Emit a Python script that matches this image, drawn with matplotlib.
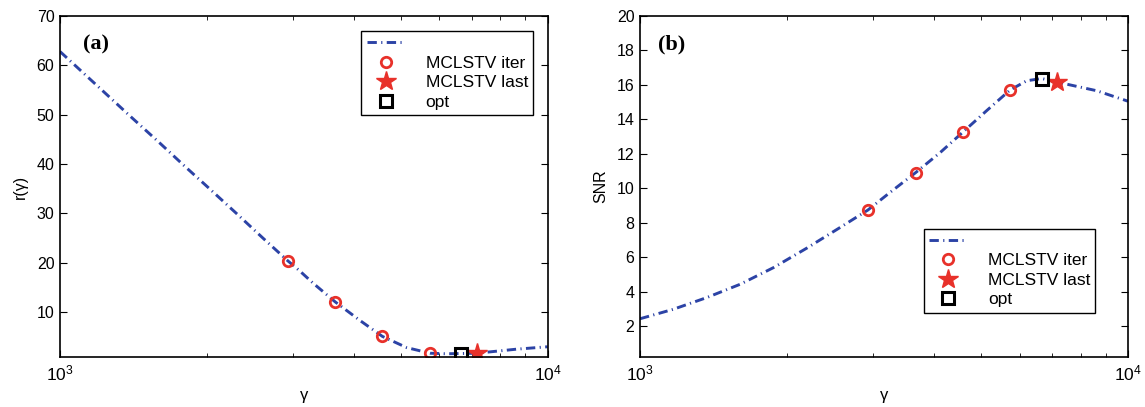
import matplotlib
matplotlib.use('Agg')
import matplotlib.pyplot as plt
from matplotlib.ticker import LogLocator, NullFormatter

plt.rcParams['font.family'] = ['Liberation Sans', 'DejaVu Sans']
plt.rcParams['mathtext.fontset'] = 'custom'
plt.rcParams['mathtext.rm'] = 'Liberation Sans'

# panel (a): residual curve r(gamma)
gamma_a = [1000, 1200, 1400, 1600, 1800, 2000, 2300, 2600, 2931, 3105, 3300,
           3669, 4122, 4581, 5140, 5739, 6200, 6637, 7147, 8630, 10000]
r_a = [62.8, 55.6, 49.5, 44.3, 39.6, 35.5, 30.0, 25.1, 20.4, 18.3, 15.9,
       12.05, 8.3, 5.08, 2.8, 1.66, 1.55, 1.6, 1.66, 2.48, 2.97]
iter_a_x = [2931, 3669, 4581, 5739]
iter_a_y = [20.4, 12.05, 5.08, 1.66]
last_a = (7147, 1.66)
opt_a = (6637, 1.6)

# panel (b): SNR curve
gamma_b = [1000, 1170, 1370, 1603, 1877, 2196, 2570, 2929, 3251, 3672, 4121,
           4592, 5130, 5730, 6200, 6653, 7162, 8625, 10000]
snr_b = [2.42, 2.97, 3.65, 4.42, 5.39, 6.52, 7.72, 8.73, 9.75, 10.91, 12.07,
         13.27, 14.5, 15.70, 16.24, 16.37, 16.16, 15.66, 15.05]
iter_b_x = [2929, 3672, 4592, 5730]
iter_b_y = [8.73, 10.91, 13.27, 15.70]
last_b = (7162, 16.16)
opt_b = (6653, 16.37)

line_col = '#2c43a6'
red = '#e8312a'

fig = plt.figure(figsize=(11.45, 4.07), dpi=100)
ax1 = fig.add_axes([0.0524, 0.1229, 0.4259, 0.8378])
ax2 = fig.add_axes([0.5590, 0.1229, 0.4262, 0.8378])


def draw(ax, gx, gy, ix, iy, last, opt):
    ax.plot(gx, gy, linestyle='-.', color=line_col, lw=2.1, label=' ',
            dashes=(3.2, 1.5, 0.4, 1.5))
    ax.plot(ix, iy, 'o', ms=7.5, mfc='none', mec=red, mew=2, label='MCLSTV iter',
            linestyle='none')
    ax.plot([last[0]], [last[1]], '*', ms=15, mfc=red, mec=red, mew=1,
            label='MCLSTV last', linestyle='none')
    ax.plot([opt[0]], [opt[1]], 's', ms=8.5, mfc='none', mec='black', mew=2.2,
            label='opt', linestyle='none')
    ax.set_xscale('log')
    ax.set_xlim(1000, 10000)
    ax.xaxis.set_minor_locator(LogLocator(base=10, subs=range(2, 10)))
    ax.xaxis.set_minor_formatter(NullFormatter())
    ax.tick_params(which='both', direction='in', top=True, right=True,
                   labelsize=11.5)
    ax.tick_params(which='major', length=5)
    ax.tick_params(which='minor', length=3)
    ax.tick_params(axis='x', pad=5, labelsize=12.5)
    ax.tick_params(axis='y', pad=4)
    for s in ax.spines.values():
        s.set_linewidth(1.2)
    ax.set_xlabel('γ', fontsize=12, labelpad=3)


draw(ax1, gamma_a, r_a, iter_a_x, iter_a_y, last_a, opt_a)
ax1.set_ylim(0.9, 70)
ax1.set_yticks([10, 20, 30, 40, 50, 60, 70])
ax1.set_ylabel('r(γ)', fontsize=11.5, labelpad=6)
ax1.text(0.047, 0.915, '(a)', transform=ax1.transAxes, fontsize=16,
         fontweight='bold', family='Liberation Serif', va='center')
ax1.legend(loc='upper right', bbox_to_anchor=(0.988, 0.982), fancybox=False,
           edgecolor='black', framealpha=1, fontsize=12.5, handlelength=2.2,
           borderpad=0.3, labelspacing=0.25, handletextpad=1.2)

draw(ax2, gamma_b, snr_b, iter_b_x, iter_b_y, last_b, opt_b)
ax2.set_ylim(0.2, 20)
ax2.set_yticks([2, 4, 6, 8, 10, 12, 14, 16, 18, 20])
ax2.set_ylabel('SNR', fontsize=11.5, labelpad=6)
ax2.text(0.037, 0.915, '(b)', transform=ax2.transAxes, fontsize=16,
         fontweight='bold', family='Liberation Serif', va='center')
ax2.legend(loc='upper right', bbox_to_anchor=(0.951, 0.402), fancybox=False,
           edgecolor='black', framealpha=1, fontsize=12.5, handlelength=2.2,
           borderpad=0.3, labelspacing=0.25, handletextpad=1.2)

fig.savefig('out.png', dpi=100)
